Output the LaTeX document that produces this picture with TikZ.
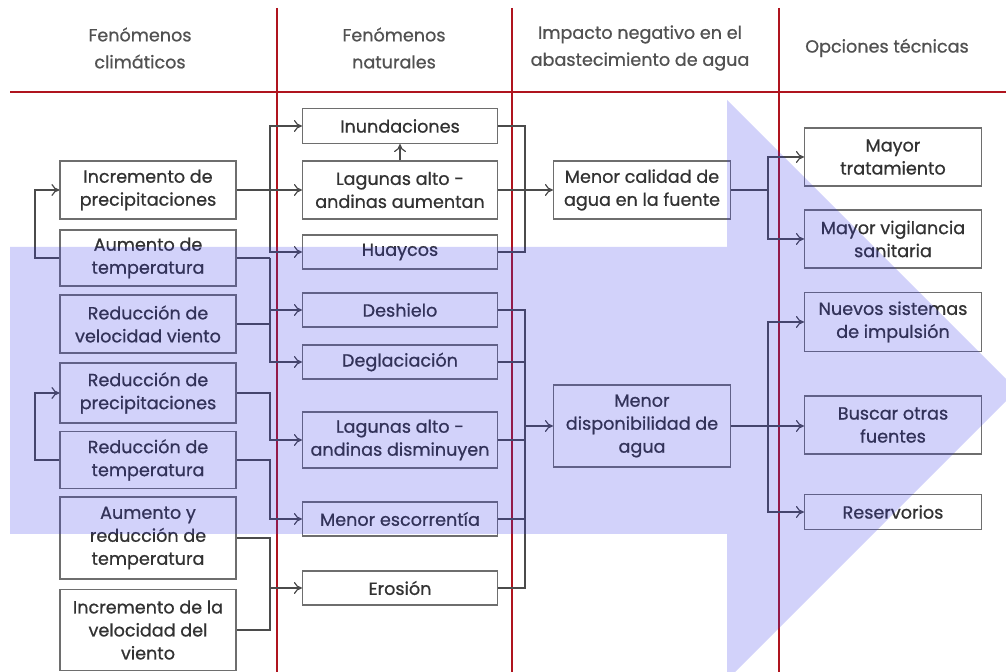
\documentclass[tikz,border=0pt]{standalone}
\usepackage{fontspec}
\setmainfont{Poppins}
\newfontfamily\boxfont{Poppins}[FakeBold=0.8]
\usetikzlibrary{arrows.meta}
\definecolor{txt}{RGB}{50,50,50}
\definecolor{bordc}{RGB}{110,110,110}
\definecolor{connc}{RGB}{75,75,75}
\definecolor{redl}{RGB}{175,20,30}
\definecolor{arrowc}{RGB}{51,51,230}
\begin{document}
\begin{tikzpicture}[x=0.5pt,y=-0.5pt,
  box/.style={draw=bordc, line width=0.6pt, text=txt, align=center, inner sep=0pt,
    font=\boxfont\fontsize{8.8}{11.5}\selectfont},
  wd/.style={minimum width=#1*0.5pt},
  ht/.style={minimum height=#1*0.5pt},
  head/.style={text=txt!85, align=center, font=\boxfont\fontsize{8.8}{13.5}\selectfont},
  line/.style={draw=connc, line width=0.6pt},
  conn/.style={line, -{To[length=4pt,width=6pt]}},
  redline/.style={draw=redl, line width=1.4pt}]
\useasboundingbox (0,0) rectangle (1006,672);

% headers
\node[head] (h1) at (140,48) {Fenómenos\\climáticos};
\node[head] (h2) at (394,48) {Fenómenos\\naturales};
\node[head] (h3) at (640,48) {Impacto negativo en el\\abastecimiento de agua};
\node[head] (h4) at (887,48) {Opciones técnicas};

% red grid
\draw[redline] (10,92) -- (1006,92);
\draw[redline] (277,8) -- (277,672);
\draw[redline] (512,8) -- (512,672);
\draw[redline] (779,8) -- (779,672);

% junction coordinates
\coordinate (jL) at (35,0);
\coordinate (jA) at (270,0);
\coordinate (jM) at (525,0);
\coordinate (jR) at (768,0);

% left column
\node[box,wd=176,ht=58] (ip) at (148,190) {Incremento de\\precipitaciones};
\node[box,wd=176,ht=56] (at) at (148,258) {Aumento de\\temperatura};
\node[box,wd=176,ht=58] (rv) at (148,324) {Reducción de\\velocidad viento};
\node[box,wd=176,ht=60] (rp) at (148,393) {Reducción de\\precipitaciones};
\node[box,wd=176,ht=57] (rt) at (148,460) {Reducción de\\temperatura};
\node[box,wd=176,ht=82] (ar) at (148,538) {Aumento y\\reducción de\\temperatura};
\node[box,wd=176,ht=81] (iv) at (148,630) {Incremento de la\\velocidad del\\viento};

% middle column
\node[box,wd=195,ht=35] (in) at (400,126) {Inundaciones};
\node[box,wd=195,ht=58] (la) at (400,190) {Lagunas alto -\\andinas aumentan};
\node[box,wd=195,ht=34] (hu) at (400,252) {Huaycos};
\node[box,wd=195,ht=34] (de) at (400,310) {Deshielo};
\node[box,wd=195,ht=34] (dg) at (400,362) {Deglaciación};
\node[box,wd=195,ht=56] (ld) at (400,440) {Lagunas alto -\\andinas disminuyen};
\node[box,wd=195,ht=34] (me) at (400,519) {Menor escorrentía};
\node[box,wd=195,ht=34] (er) at (400,588) {Erosión};

% impact column
\node[box,wd=177,ht=58] (mc) at (642,190) {Menor calidad de\\agua en la fuente};
\node[box,wd=177,ht=82] (md) at (642,426) {Menor\\disponibilidad de\\agua};

% options column
\node[box,wd=177,ht=58] (mt) at (893,157) {Mayor\\tratamiento};
\node[box,wd=177,ht=58] (mv) at (893,239) {Mayor vigilancia\\sanitaria};
\node[box,wd=177,ht=59] (ns) at (893,322) {Nuevos sistemas\\de impulsión};
\node[box,wd=177,ht=58] (bo) at (893,425) {Buscar otras\\fuentes};
\node[box,wd=177,ht=35] (re) at (893,512) {Reservorios};

% feedback loops on the left
\draw[conn] (at.west) -- (at.west -| jL) |- (ip.west);
\draw[conn] (rt.west) -- (rt.west -| jL) |- (rp.west);

% left -> middle
\draw[conn] (ip.east) -- (la.west);
\draw[conn] (ip.east -| jA) |- (in.west);
\draw[conn] (ip.east -| jA) |- (hu.west);
\draw[line] (at.east) -- (at.east -| jA);
\draw[conn] (at.east -| jA) |- (de.west);
\draw[conn] (at.east -| jA) |- (dg.west);
\draw[line] (rv.east) -- (rv.east -| jA);
\draw[conn] (rp.east) -- (rp.east -| jA) |- (ld.west);
\draw[conn] (rt.east) -- (rt.east -| jA) |- (me.west);
\draw[line] (ar.east) -- (ar.east -| jA) -- (iv.east -| jA) -- (iv.east);
\draw[conn] (er.west -| jA) -- (er.west);
\draw[conn] (la.north) -- (in.south);

% middle -> impact
\draw[line] (in.east) -- (in.east -| jM) -- (hu.east -| jM) -- (hu.east);
\draw[conn] (la.east) -- (mc.west);
\draw[line] (de.east) -- (de.east -| jM) -- (er.east -| jM) -- (er.east);
\draw[line] (dg.east) -- (dg.east -| jM);
\draw[line] (ld.east) -- (ld.east -| jM);
\draw[line] (me.east) -- (me.east -| jM);
\draw[conn] (md.west -| jM) -- (md.west);

% impact -> options
\draw[line] (mc.east) -- (mc.east -| jR);
\draw[conn] (mc.east -| jR) |- (mt.west);
\draw[conn] (mc.east -| jR) |- (mv.west);
\draw[conn] (md.east) -- (md.east -| bo.west);
\draw[conn] (md.east -| jR) |- (ns.west);
\draw[conn] (md.east -| jR) |- (re.west);

% big translucent arrow
\begin{scope}
\clip (0,0) rectangle (1006,672);
\fill[arrowc, fill opacity=0.22]
  (10,247) -- (727,247) -- (727,100) -- (1017,390) -- (727,680) -- (727,534) -- (10,534) -- cycle;
\end{scope}
\end{tikzpicture}
\end{document}
